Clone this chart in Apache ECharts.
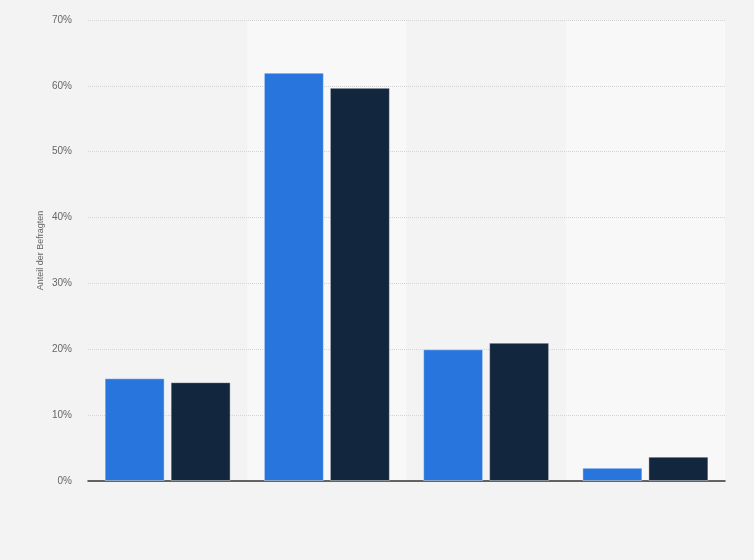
<!DOCTYPE html>
<html><head><meta charset="utf-8">
<script src="https://cdn.jsdelivr.net/npm/echarts@6/dist/echarts.min.js"></script>
<style>html,body{margin:0;padding:0;background:#f3f3f3;}#c{width:754px;height:560px;}</style>
</head><body><div id="c"></div>
<script>
const categories = ['Kategorie 1', 'Kategorie 2', 'Kategorie 3', 'Kategorie 4'];
const seriesA = [15.6, 62.0, 20.0, 2.0];
const seriesB = [15.0, 59.7, 21.0, 3.7];
const yTicks = [0, 10, 20, 30, 40, 50, 60, 70];

const chart = echarts.init(document.getElementById('c'));
chart.setOption({
  backgroundColor: '#f3f3f3',
  animation: false,
  grid: { left: 88, right: 29, top: 20, bottom: 79 },
  xAxis: {
    type: 'category',
    data: categories,
    z: 0,
    axisLine: { lineStyle: { color: '#333', width: 1.5 } },
    axisTick: { show: false },
    axisLabel: { show: false },
    splitArea: { show: true, areaStyle: { color: ['#f3f3f3', '#f8f8f8'] } }
  },
  yAxis: {
    type: 'value',
    z: 1,
    min: yTicks[0], max: yTicks[yTicks.length - 1], interval: 10,
    name: 'Anteil der Befragten',
    nameLocation: 'middle',
    nameGap: 43,
    nameMoveOverlap: false,
    nameTextStyle: { color: '#666', fontSize: 9, fontFamily: 'Arial, Liberation Sans, sans-serif' },
    axisLine: { show: false },
    axisTick: { show: false },
    axisLabel: { formatter: '{value}%', color: '#666', fontSize: 10, margin: 16, fontFamily: 'Arial, Liberation Sans, sans-serif' },
    splitLine: { showMinLine: false, lineStyle: { color: '#d4d4d4', type: [1, 1], width: 1 } }
  },
  series: [
    { name: 'A', type: 'bar', data: seriesA, barWidth: 60, barGap: '10%', z: 2,
      itemStyle: { color: '#2876dd', borderColor: 'rgba(255,255,255,0.4)', borderWidth: 1 } },
    { name: 'B', type: 'bar', data: seriesB, barWidth: 60, barGap: '10%', z: 2,
      itemStyle: { color: '#12263d', borderColor: 'rgba(255,255,255,0.4)', borderWidth: 1 } }
  ]
});
</script></body></html>
